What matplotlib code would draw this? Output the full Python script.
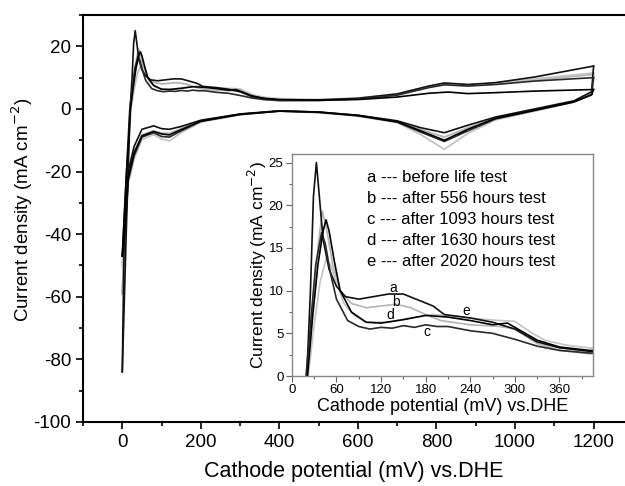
import matplotlib
matplotlib.use("Agg")
import matplotlib.pyplot as plt
from matplotlib.ticker import MultipleLocator

plt.rcParams['font.family'] = ['Liberation Sans', 'DejaVu Sans']
plt.rcParams['axes.unicode_minus'] = False

# ---- data: anodic (forward) sweeps, potential in mV, current in mA cm^-2 ----
a_fwd_E = [0, 10, 20, 25, 29, 33, 36, 42, 50, 60, 72, 90, 110, 130, 150, 170, 190, 205, 240, 270, 300, 330, 360, 400,
           500, 600, 700, 780, 820, 880, 950, 1050, 1200]
a_fwd_I = [-84, -40, 0, 10, 21, 25, 22, 16, 12.5, 10.5, 9.3, 9.0, 9.3, 9.6, 9.6, 8.9, 8.2, 7.2, 6.8, 6.3, 5.5, 4.0, 3.3, 2.9,
           2.9, 3.4, 4.8, 7.3, 8.3, 7.8, 8.4, 10.2, 13.7]
b_fwd_E = [0, 10, 20, 28, 35, 41, 46, 55, 65, 80, 100, 120, 140, 160, 180, 200, 240, 280, 300, 330, 360, 400,
           500, 600, 700, 780, 820, 880, 950, 1050, 1200]
b_fwd_I = [-59, -30, 0, 8, 15, 19.3, 17.5, 13, 10, 8.5, 8.0, 8.2, 8.4, 8.0, 7.2, 6.5, 6.0, 5.8, 5.5, 3.8, 3.0, 2.6,
           2.7, 3.2, 4.5, 7.0, 7.9, 7.5, 8.0, 9.2, 11.0]
c_fwd_E = [0, 10, 19, 25, 32, 40, 45, 52, 60, 75, 90, 105, 120, 135, 150, 165, 180, 195, 210, 240, 270, 300, 330, 360, 400,
           500, 600, 700, 780, 820, 880, 950, 1050, 1200]
c_fwd_I = [-47, -22, 0, 6, 13, 16.8, 15.5, 12, 9, 6.5, 5.8, 5.5, 5.7, 5.6, 5.9, 5.7, 6.0, 5.8, 5.8, 5.3, 5.0, 4.3, 3.5, 3.0, 2.7,
           2.7, 3.2, 4.4, 6.8, 7.7, 7.3, 7.8, 8.9, 10.0]
d_fwd_E = [0, 10, 21, 28, 35, 42, 46, 50, 57, 65, 80, 100, 120, 150, 180, 210, 240, 270, 290, 310, 330, 360, 400,
           500, 600, 700, 780, 830, 880, 950, 1050, 1200]
d_fwd_I = [-47, -22, 0, 7, 13, 17, 18.3, 17, 13.5, 10, 7.5, 6.3, 6.2, 6.6, 7.1, 6.9, 6.5, 6.0, 6.2, 5.2, 4.2, 3.4, 3.0,
           2.8, 3.0, 3.8, 5.0, 5.4, 4.9, 5.2, 5.7, 6.2]
e_fwd_E = [0, 10, 22, 30, 38, 46, 52, 60, 70, 85, 100, 130, 160, 190, 220, 250, 280, 300, 320, 340, 370, 400,
           500, 600, 700, 780, 820, 880, 950, 1050, 1200]
e_fwd_I = [-50, -24, 0, 6, 11, 13.7, 13, 11, 8.5, 7, 6.3, 6.3, 6.8, 7.2, 7.0, 6.7, 6.5, 6.4, 5.2, 4.2, 3.6, 3.3,
           3.0, 3.5, 4.8, 7.2, 8.1, 7.7, 8.2, 9.6, 11.5]

# ---- cathodic (reverse) sweeps ----
rev_E = [1200, 1195, 1150, 1050, 950, 880, 820, 760, 700, 600, 500, 400, 300, 200, 150, 120, 100, 80, 50, 30, 15, 5, 0]
a_rev_I = [13.7, 5.5, 2.6, 0.0, -2.6, -5.2, -7.6, -6.0, -3.8, -2.0, -1.0, -0.6, -1.6, -3.6, -5.6, -6.5, -6.3, -5.4, -6.5, -12, -20, -40, -84]
b_rev_I = [11.0, 5.0, 2.4, -0.3, -2.9, -6.0, -9.0, -6.6, -4.0, -2.1, -1.0, -0.6, -1.7, -3.8, -6.3, -7.8, -7.7, -7.0, -8.2, -14, -22, -42, -59]
c_rev_I = [10.0, 4.6, 2.2, -0.5, -3.2, -7.0, -10.4, -7.4, -4.2, -2.2, -1.1, -0.7, -1.8, -4.0, -7.0, -9.0, -8.8, -7.6, -9.0, -15, -23, -43, -47]
d_rev_I = [6.2, 4.5, 2.3, -0.4, -3.0, -6.5, -10.0, -7.0, -4.1, -2.1, -1.0, -0.7, -1.7, -3.9, -6.6, -8.3, -8.0, -7.2, -8.6, -14, -22, -42, -47]
e_rev_I = [11.5, 4.8, 2.2, -0.7, -3.5, -7.8, -12.9, -8.2, -4.4, -2.3, -1.2, -0.7, -1.9, -4.2, -7.6, -10.2, -9.6, -8.2, -9.8, -16, -24, -44, -50]

colors = {'a': '#111111', 'b': '#b4b4b4', 'c': '#2a2a2a', 'd': '#000000', 'e': '#c4c4c4'}
curves = [
    ('a', a_fwd_E, a_fwd_I, a_rev_I),
    ('b', b_fwd_E, b_fwd_I, b_rev_I),
    ('c', c_fwd_E, c_fwd_I, c_rev_I),
    ('d', d_fwd_E, d_fwd_I, d_rev_I),
    ('e', e_fwd_E, e_fwd_I, e_rev_I),
]
legend_lines = ["a --- before life test", "b --- after 556 hours test", "c --- after 1093 hours test",
                "d --- after 1630 hours test", "e --- after 2020 hours test"]
# curve label positions in the inset (mV, mA cm^-2)
lab_names = ['a', 'b', 'c', 'd', 'e']
lab_E = [137, 140, 182, 133, 234]
lab_I = [10.3, 8.7, 5.2, 7.2, 7.6]

fig = plt.figure(figsize=(6.25, 4.86), dpi=100)
ax = fig.add_axes([0.1328, 0.1317, 0.8672, 0.8374])

order = ['b', 'e', 'a', 'c', 'd']
for name in order:
    for n, fE, fI, rI in curves:
        if n != name:
            continue
        lw = 1.3 if n in ('b', 'e') else 1.2
        ax.plot(fE, fI, color=colors[n], lw=lw)
        ax.plot(rev_E, rI, color=colors[n], lw=lw)

ax.set_xlim(-100, 1280)
ax.set_ylim(-100, 30)
ax.xaxis.set_major_locator(MultipleLocator(200))
ax.xaxis.set_minor_locator(MultipleLocator(100))
ax.yaxis.set_major_locator(MultipleLocator(20))
ax.yaxis.set_minor_locator(MultipleLocator(10))
ax.tick_params(which='both', direction='out', top=False, right=False, width=1.2, labelsize=13.5)
ax.tick_params(which='major', length=5)
ax.tick_params(which='minor', length=3)
ax.spines['right'].set_visible(False)
for s in ('left', 'bottom', 'top'):
    ax.spines[s].set_linewidth(1.5)
ax.set_xlabel("Cathode potential (mV) vs.DHE", fontsize=15.5)
ax.xaxis.set_label_coords(0.5, -0.097)
ax.set_ylabel("Current density (mA cm$^{-2}$)", fontsize=13.5)
ax.yaxis.set_label_coords(-0.088, 0.52)

# ---- inset ----
ins = fig.add_axes([0.467, 0.2263, 0.4816, 0.4568])
for name in order:
    for n, fE, fI, rI in curves:
        if n != name:
            continue
        ins.plot(fE, fI, color=colors[n], lw=1.2)
ins.set_xlim(0, 405)
ins.set_ylim(0, 26)
ins.xaxis.set_major_locator(MultipleLocator(60))
ins.xaxis.set_minor_locator(MultipleLocator(30))
ins.yaxis.set_major_locator(MultipleLocator(5))
ins.yaxis.set_minor_locator(MultipleLocator(2.5))
ins.tick_params(which='both', direction='out', labelsize=9.5, color='#666666', width=0.8, pad=2)
ins.tick_params(which='major', length=4)
ins.tick_params(which='minor', length=2)
for s in ins.spines.values():
    s.set_color('#888888')
    s.set_linewidth(1.0)
ins.set_xlabel("Cathode potential (mV) vs.DHE", fontsize=13, labelpad=1)
ins.set_ylabel("Current density (mA cm$^{-2}$)", fontsize=12.5, labelpad=0)

for i, t in enumerate(legend_lines):
    ins.text(0.249, 0.892 - i * 0.0946, t, transform=ins.transAxes, fontsize=12, va='center', ha='left')
for n, x, y in zip(lab_names, lab_E, lab_I):
    ins.text(x, y, n, fontsize=10, ha='center', va='center')

fig.savefig("out.png", dpi=100)
